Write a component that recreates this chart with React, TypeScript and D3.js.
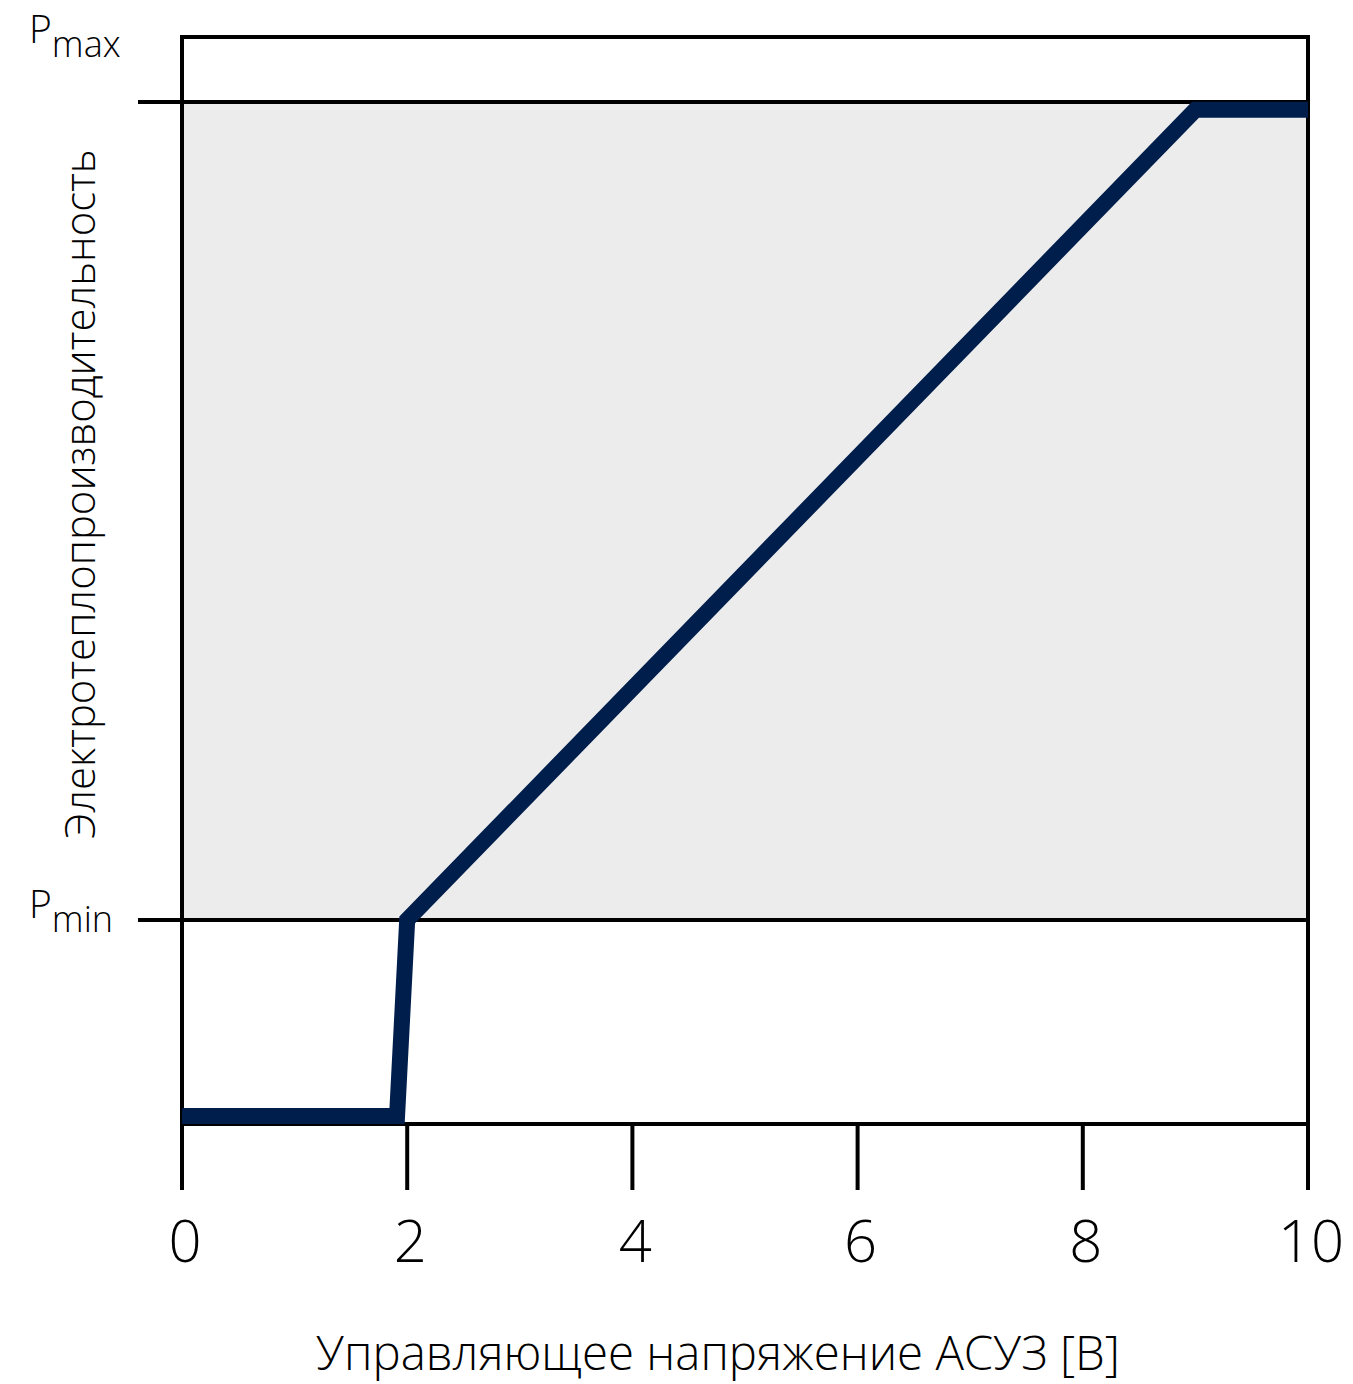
import React from "react";
import * as d3 from "d3";

const xTicks = [0, 2, 4, 6, 8, 10];
const tickLabels = ["0", "2", "4", "6", "8", "10"];
const curveX = [0, 1.91, 2.0, 9.0, 10];
const curveY = [0.74, 0.74, 18.77, 93.3, 93.3];
const pMin = 18.77;
const pMax = 94.02;
const levelLabels = ["min", "max"];
const xLabel = "Управляющее напряжение АСУЗ [В]";
const yLabel = "Электротеплопроизводительность";

const W = 1353;
const H = 1384;
const L = 182, R = 1308, T = 37, B = 1124;
const FONT = "'Open Sans', 'Noto Sans', sans-serif";
const NAVY = "#001e4b";

export default function App() {
  const x = d3.scaleLinear().domain([0, 10]).range([L, R]);
  const y = d3.scaleLinear().domain([0, 100]).range([B, T]);
  const pts: [number, number][] = curveX.map((v, i) => [v, curveY[i]]);
  const line = d3.line<[number, number]>().x(d => x(d[0])).y(d => y(d[1]));
  const levels = [pMin, pMax];
  // label baselines: Pmin sits just above its line, Pmax sits above the frame
  const labelBase = [y(pMin) - 2, 43];
  return (
    <svg width={W} height={H} style={{ position: "absolute", left: 0, top: 0, background: "#fff" }} fontFamily={FONT} fontWeight={300}>
      <rect x={L} y={y(pMax)} width={R - L} height={y(pMin) - y(pMax)} fill="#ececec" />
      <rect x={L} y={T} width={R - L} height={B - T} fill="none" stroke="#000" strokeWidth={4} />
      {levels.map((v, i) => (
        <g key={i}>
          <line x1={138} x2={R} y1={y(v)} y2={y(v)} stroke="#000" strokeWidth={4} />
          <text x={29} y={labelBase[i]} fontSize={39} fill="#000">
            P<tspan dy={14} fontSize={36}>{levelLabels[i]}</tspan>
          </text>
        </g>
      ))}
      {xTicks.map((t, i) => (
        <g key={t}>
          <line x1={x(t)} x2={x(t)} y1={B} y2={1190} stroke="#000" strokeWidth={4} />
          <text x={x(t) + 3} y={1262} fontSize={58} textAnchor="middle" fill="#000">{tickLabels[i]}</text>
        </g>
      ))}
      <path d={line(pts) || ""} fill="none" stroke={NAVY} strokeWidth={16} strokeLinejoin="miter" strokeLinecap="butt" />
      <text x={718} y={1370} fontSize={47.4} textAnchor="middle" fill="#000">{xLabel}</text>
      <text transform="translate(95,494) rotate(-90)" fontSize={41.9} textAnchor="middle" fill="#000">{yLabel}</text>
    </svg>
  );
}
